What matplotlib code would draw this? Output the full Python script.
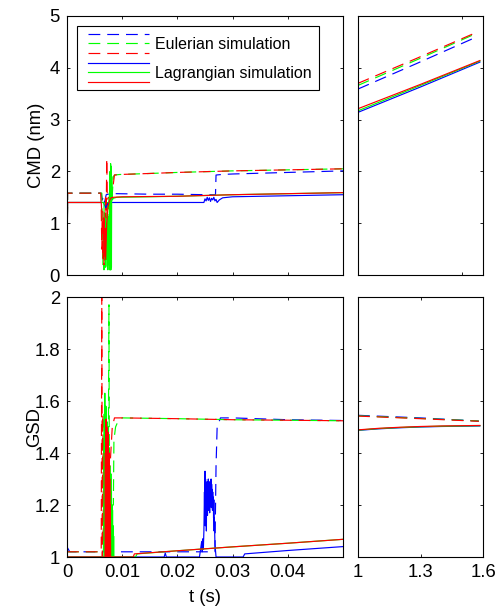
import matplotlib
matplotlib.use('Agg')
import matplotlib.pyplot as plt
from matplotlib.lines import Line2D
from matplotlib.legend_handler import HandlerBase

plt.rcParams['font.family'] = ['Liberation Sans', 'DejaVu Sans']
plt.rcParams['lines.scale_dashes'] = False

# ---------------- data ----------------
legend_labels = ["Eulerian simulation", "Lagrangian simulation"]
series_colors = ["#0000ff", "#00ff00", "#ff0000"]

# CMD, early time (s)
cmd_eb_t = [0, 0.0001, 0.0062, 0.0064, 0.0066, 0.0068, 0.0071, 0.0075, 0.0080, 0.0090, 0.0150, 0.0200, 0.0250, 0.0269, 0.0270, 0.0280, 0.0300, 0.0400, 0.0500]
cmd_eb_y = [0, 1.58, 1.58, 1.45, 1.52, 1.40, 1.55, 1.56, 1.57, 1.57, 1.56, 1.56, 1.55, 1.55, 1.93, 1.94, 1.95, 1.98, 2.01]
cmd_eg_t = [0, 0.0001, 0.0063, 0.0064, 0.0065, 0.0066, 0.0067, 0.0068, 0.0069, 0.0070, 0.0071, 0.0072, 0.0073, 0.0074, 0.0075, 0.0076, 0.0077, 0.0078, 0.0080, 0.0082, 0.0084, 0.0086, 0.0095, 0.0150, 0.0200, 0.0300, 0.0400, 0.0500]
cmd_eg_y = [0, 1.58, 1.58, 0.9, 0.2, 1.1, 0.1, 0.8, 0.15, 1.2, 0.3, 1.0, 0.1, 1.4, 0.5, 1.5, 1.45, 1.5, 1.48, 1.55, 1.9, 1.93, 1.94, 1.96, 1.98, 2.01, 2.03, 2.05]
cmd_er_t = [0, 0.0001, 0.0061, 0.0062, 0.0063, 0.0064, 0.0065, 0.0066, 0.0067, 0.0068, 0.0069, 0.0070, 0.0071, 0.0072, 0.0073, 0.0075, 0.0078, 0.0082, 0.0086, 0.0095, 0.0150, 0.0200, 0.0300, 0.0400, 0.0500]
cmd_er_y = [0, 1.58, 1.58, 1.3, 0.5, 1.1, 0.3, 0.9, 0.2, 1.2, 0.6, 1.5, 1.1, 2.25, 1.45, 1.5, 1.48, 1.6, 1.93, 1.94, 1.96, 1.98, 2.01, 2.03, 2.05]
cmd_lb_t = [0, 0.0001, 0.0066, 0.0070, 0.0074, 0.0078, 0.0082, 0.0150, 0.0200, 0.0248, 0.0250, 0.0252, 0.0254, 0.0256, 0.0258, 0.0260, 0.0262, 0.0264, 0.0266, 0.0268, 0.0270, 0.0272, 0.0276, 0.0282, 0.0300, 0.0400, 0.0500]
cmd_lb_y = [0, 1.40, 1.40, 1.30, 1.38, 1.40, 1.40, 1.40, 1.40, 1.40, 1.47, 1.43, 1.50, 1.44, 1.49, 1.42, 1.48, 1.45, 1.50, 1.43, 1.46, 1.40, 1.45, 1.49, 1.51, 1.53, 1.55]
cmd_lg_t = [0, 0.0001, 0.0067, 0.0068, 0.0069, 0.0070, 0.0071, 0.0072, 0.0073, 0.0074, 0.0075, 0.0076, 0.0077, 0.00775, 0.0078, 0.00785, 0.0079, 0.00795, 0.0080, 0.00805, 0.0081, 0.0082, 0.0084, 0.0090, 0.0150, 0.0200, 0.0300, 0.0400, 0.0500]
cmd_lg_y = [0, 1.40, 1.40, 0.4, 1.1, 0.15, 0.9, 0.3, 1.2, 0.1, 1.0, 0.2, 1.6, 0.1, 2.0, 0.1, 2.15, 0.1, 2.1, 0.15, 1.9, 1.45, 1.48, 1.50, 1.51, 1.52, 1.55, 1.57, 1.59]
cmd_lr_t = [0, 0.0001, 0.0062, 0.0063, 0.0065, 0.0066, 0.0067, 0.0068, 0.0069, 0.0070, 0.0072, 0.0074, 0.0076, 0.0078, 0.0080, 0.0084, 0.0100, 0.0200, 0.0300, 0.0400, 0.0500]
cmd_lr_y = [0, 1.40, 1.40, 1.22, 1.22, 0.7, 1.1, 0.4, 0.9, 0.3, 1.0, 1.3, 1.40, 1.46, 1.49, 1.50, 1.51, 1.52, 1.55, 1.57, 1.59]

# CMD, late time (s)
zr_e_x = [1.0, 1.28, 1.555]
cmd_zr_eb = [3.59, 4.08, 4.57]
cmd_zr_eg = [3.66, 4.15, 4.64]
cmd_zr_er = [3.70, 4.18, 4.66]
zr_l_x = [1.0, 1.3, 1.585]
cmd_zr_lb = [3.14, 3.63, 4.11]
cmd_zr_lg = [3.17, 3.66, 4.13]
cmd_zr_lr = [3.21, 3.68, 4.14]

# GSD, early time (s)
gsd_eb_t = [0, 0.0001, 0.0005, 0.0150, 0.0200, 0.0268, 0.0270, 0.0272, 0.0278, 0.0300, 0.0400, 0.0500]
gsd_eb_y = [1.035, 1.035, 1.02, 1.02, 1.02, 1.02, 1.35, 1.50, 1.535, 1.535, 1.528, 1.525]
gsd_eg_t = [0, 0.0001, 0.0066, 0.0067, 0.0068, 0.0069, 0.0070, 0.0071, 0.0072, 0.0073, 0.0074, 0.0075, 0.0076, 0.0077, 0.0078, 0.0079, 0.0080, 0.0081, 0.0082, 0.0084, 0.0085, 0.0088, 0.0093, 0.0100, 0.0200, 0.0300, 0.0400, 0.0500]
gsd_eg_y = [1.02, 1.02, 1.02, 1.45, 1.0, 1.4, 1.05, 1.5, 1.0, 1.35, 1.1, 1.45, 1.97, 1.0, 1.3, 1.05, 1.25, 1.0, 1.2, 1.2, 1.45, 1.50, 1.525, 1.535, 1.532, 1.528, 1.526, 1.524]
gsd_er_t = [0, 0.0001, 0.0062, 0.0063, 0.0064, 0.0065, 0.0066, 0.0067, 0.0068, 0.0069, 0.0070, 0.0071, 0.0072, 0.0073, 0.0074, 0.0075, 0.0076, 0.0078, 0.0082, 0.0086, 0.0100, 0.0200, 0.0300, 0.0400, 0.0500]
gsd_er_y = [1.02, 1.02, 1.02, 2.0, 1.0, 1.55, 1.05, 1.45, 1.1, 1.5, 1.0, 1.4, 1.05, 1.3, 1.0, 1.2, 1.02, 1.35, 1.50, 1.535, 1.535, 1.532, 1.528, 1.526, 1.524]

gsd_lb_t = [0, 0.0001, 0.0150, 0.0176, 0.0178, 0.0180, 0.0240,
            0.02440, 0.02450, 0.02460, 0.02470, 0.02480,
            0.02490, 0.02495, 0.02500, 0.02505, 0.02510, 0.02515, 0.02520, 0.02525, 0.02530, 0.02535,
            0.02540, 0.02545, 0.02550, 0.02555, 0.02560, 0.02565, 0.02570, 0.02575, 0.02580, 0.02585,
            0.02590, 0.02595, 0.02600, 0.02605, 0.02610, 0.02615, 0.02620, 0.02625, 0.02630, 0.02635,
            0.02640, 0.02645, 0.02650, 0.02655, 0.02660, 0.02665, 0.02670, 0.02680, 0.02700,
            0.0319, 0.0322, 0.0400, 0.0500]
gsd_lb_y = [1.03, 1.0, 1.0, 1.0, 1.015, 1.0, 1.0,
            1.06, 1.02, 1.07, 1.03, 1.10,
            1.25, 1.15, 1.33, 1.12, 1.30, 1.18, 1.27, 1.10, 1.26, 1.20,
            1.29, 1.16, 1.28, 1.22, 1.30, 1.18, 1.26, 1.21, 1.24, 1.17,
            1.29, 1.20, 1.27, 1.22, 1.30, 1.19, 1.28, 1.24, 1.26, 1.18,
            1.25, 1.20, 1.23, 1.15, 1.22, 1.10, 1.15, 1.05, 1.0,
            1.0, 1.012, 1.025, 1.04]
gsd_lg_t = [0, 0.0001,
            0.00670, 0.00675, 0.00680, 0.00685, 0.00690, 0.00695, 0.00700, 0.00705, 0.00710, 0.00715,
            0.00720, 0.00725, 0.00730, 0.00735, 0.00740, 0.00745, 0.00750, 0.00755, 0.00760, 0.00765,
            0.00770, 0.00775, 0.00780, 0.00785, 0.00790, 0.00795, 0.00800, 0.00805, 0.00810, 0.00815,
            0.00820, 0.00825, 0.00830, 0.00835, 0.00840, 0.00845, 0.00850,
            0.0124, 0.0127, 0.0200, 0.0300, 0.0400, 0.0500]
gsd_lg_y = [1.0, 1.0,
            1.0, 1.55, 1.0, 1.63, 1.02, 1.5, 1.0, 1.58, 1.05, 1.45,
            1.0, 1.52, 1.02, 1.4, 1.0, 1.48, 1.05, 1.38, 1.0, 1.42,
            1.02, 1.35, 1.0, 1.3, 1.05, 1.32, 1.0, 1.25, 1.02, 1.2,
            1.0, 1.18, 1.0, 1.12, 1.0, 1.08, 1.0,
            1.0, 1.012, 1.024, 1.039, 1.053, 1.068]
gsd_lr_t = [0, 0.0001,
            0.00690, 0.00695, 0.00700, 0.00705, 0.00710, 0.00715, 0.00720, 0.00725, 0.00730, 0.00735,
            0.00740, 0.00745, 0.00750, 0.00755, 0.00760, 0.00765, 0.00770, 0.00775, 0.00780, 0.00785,
            0.00790,
            0.0120, 0.0122, 0.0200, 0.0300, 0.0400, 0.0500]
gsd_lr_y = [1.0, 1.0,
            1.0, 1.4, 1.0, 1.53, 1.05, 1.45, 1.0, 1.5, 1.1, 1.42,
            1.0, 1.48, 1.05, 1.35, 1.0, 1.4, 1.1, 1.3, 1.0, 1.2,
            1.0,
            1.0, 1.012, 1.024, 1.039, 1.053, 1.068]

# GSD, late time (s)
gsd_zr_e_x = [1.0, 1.3, 1.58]
gsd_zr_eb = [1.545, 1.535, 1.523]
gsd_zr_eg = [1.543, 1.533, 1.523]
gsd_zr_er = [1.542, 1.532, 1.522]
gsd_zr_l_x = [1.0, 1.1, 1.2, 1.3, 1.4, 1.5, 1.585]
gsd_zr_lb = [1.487, 1.493, 1.497, 1.500, 1.502, 1.503, 1.504]
gsd_zr_lg = [1.488, 1.494, 1.498, 1.501, 1.503, 1.504, 1.505]
gsd_zr_lr = [1.489, 1.495, 1.499, 1.502, 1.504, 1.505, 1.506]

# ticks
t_ticks = [0, 0.01, 0.02, 0.03, 0.04]
t_ticklabels = ["0", "0.01", "0.02", "0.03", "0.04"]
late_ticks = [1.0, 1.3, 1.6]
late_ticklabels = ["1", "1.3", "1.6"]
late_ticks_top = [1.5]
cmd_ticks = [0, 1, 2, 3, 4, 5]
cmd_ticklabels = ["0", "1", "2", "3", "4", "5"]
gsd_ticks = [1.0, 1.2, 1.4, 1.6, 1.8, 2.0]
gsd_ticklabels = ["1", "1.2", "1.4", "1.6", "1.8", "2"]

# ---------------- styling ----------------
LW = 0.85
DASH = (0, (8.5, 5.0))
FS = 13.3
W, H = 499, 609

fig = plt.figure(figsize=(W / 100, H / 100), dpi=100)

def box(l, t, r, b):
    return [l / W, 1 - b / H, (r - l) / W, (b - t) / H]

ax1 = fig.add_axes(box(67, 16, 343, 275))
ax2 = fig.add_axes(box(358, 16, 483, 275))
ax3 = fig.add_axes(box(67, 297, 343, 557))
ax4 = fig.add_axes(box(358, 297, 483, 557))

def draw(ax, ts, ys, ls):
    for t, y, c in zip(ts, ys, series_colors):
        ax.plot(t, y, color=c, linestyle=ls, linewidth=LW)

draw(ax1, [cmd_eb_t, cmd_eg_t, cmd_er_t], [cmd_eb_y, cmd_eg_y, cmd_er_y], DASH)
draw(ax1, [cmd_lb_t, cmd_lg_t, cmd_lr_t], [cmd_lb_y, cmd_lg_y, cmd_lr_y], '-')
draw(ax2, [zr_e_x] * 3, [cmd_zr_eb, cmd_zr_eg, cmd_zr_er], DASH)
draw(ax2, [zr_l_x] * 3, [cmd_zr_lb, cmd_zr_lg, cmd_zr_lr], '-')
draw(ax3, [gsd_eb_t, gsd_eg_t, gsd_er_t], [gsd_eb_y, gsd_eg_y, gsd_er_y], DASH)
draw(ax3, [gsd_lb_t, gsd_lg_t, gsd_lr_t], [gsd_lb_y, gsd_lg_y, gsd_lr_y], '-')
draw(ax4, [gsd_zr_e_x] * 3, [gsd_zr_eb, gsd_zr_eg, gsd_zr_er], DASH)
draw(ax4, [gsd_zr_l_x] * 3, [gsd_zr_lb, gsd_zr_lg, gsd_zr_lr], '-')

for ax in (ax1, ax2, ax3, ax4):
    ax.tick_params(direction='in', top=True, right=True, length=1.9, width=0.6,
                   labelsize=FS, pad=5, colors='black')
    for s in ax.spines.values():
        s.set_linewidth(0.8)

ax1.set_xlim(0, 0.05); ax1.set_ylim(0, 5)
ax1.set_xticks(t_ticks); ax1.set_xticklabels([])
ax1.set_yticks(cmd_ticks); ax1.set_yticklabels(cmd_ticklabels)
ax1.set_ylabel("CMD (nm)", fontsize=FS)

ax2.set_xlim(1.0, 1.6); ax2.set_ylim(0, 5)
ax2.set_xticks(late_ticks_top); ax2.set_xticklabels([])
ax2.set_yticks(cmd_ticks); ax2.set_yticklabels([])

ax3.set_xlim(0, 0.05); ax3.set_ylim(1, 2)
ax3.set_xticks(t_ticks); ax3.set_xticklabels(t_ticklabels)
ax3.set_yticks(gsd_ticks); ax3.set_yticklabels(gsd_ticklabels)
ax3.set_ylabel("GSD", fontsize=FS)
ax3.set_xlabel("t (s)", fontsize=FS)

ax4.set_xlim(1.0, 1.6); ax4.set_ylim(1, 2)
ax4.set_xticks(late_ticks); ax4.set_xticklabels(late_ticklabels)
ax4.set_yticks(gsd_ticks); ax4.set_yticklabels([])

ax1.yaxis.set_label_coords(-0.08, 0.5)
ax3.yaxis.set_label_coords(-0.085, 0.5)
ax3.xaxis.set_label_coords(0.5, -0.125)


class StackHandler(HandlerBase):
    def __init__(self, ls, sep, lead):
        super().__init__()
        self.ls = ls
        self.sep = sep
        self.lead = lead

    def create_artists(self, legend, orig_handle, xdescent, ydescent,
                       width, height, fontsize, trans):
        arts = []
        yc = height / 2 - ydescent
        for i, c in enumerate(series_colors):
            y = yc + (1 - i) * self.sep
            ln = Line2D([-xdescent + self.lead, -xdescent + width], [y, y],
                        color=c, linestyle=self.ls, linewidth=LW)
            ln.set_transform(trans)
            arts.append(ln)
        return arts


h_e = Line2D([], [])
h_l = Line2D([], [])
LFS = 11.5
leg = ax1.legend([h_e, h_l], legend_labels,
                 handler_map={h_e: StackHandler(DASH, 7.0, 3.6),
                              h_l: StackHandler('-', 7.0, 3.6)},
                 loc='upper left', bbox_to_anchor=(0.035, 0.961),
                 borderaxespad=0, fontsize=LFS, handlelength=4.09,
                 handleheight=1.65, handletextpad=0.42, labelspacing=0.50,
                 borderpad=0.42, fancybox=False, framealpha=1,
                 edgecolor='black')
leg.get_frame().set_linewidth(0.8)

fig.savefig('out.png', dpi=100)
